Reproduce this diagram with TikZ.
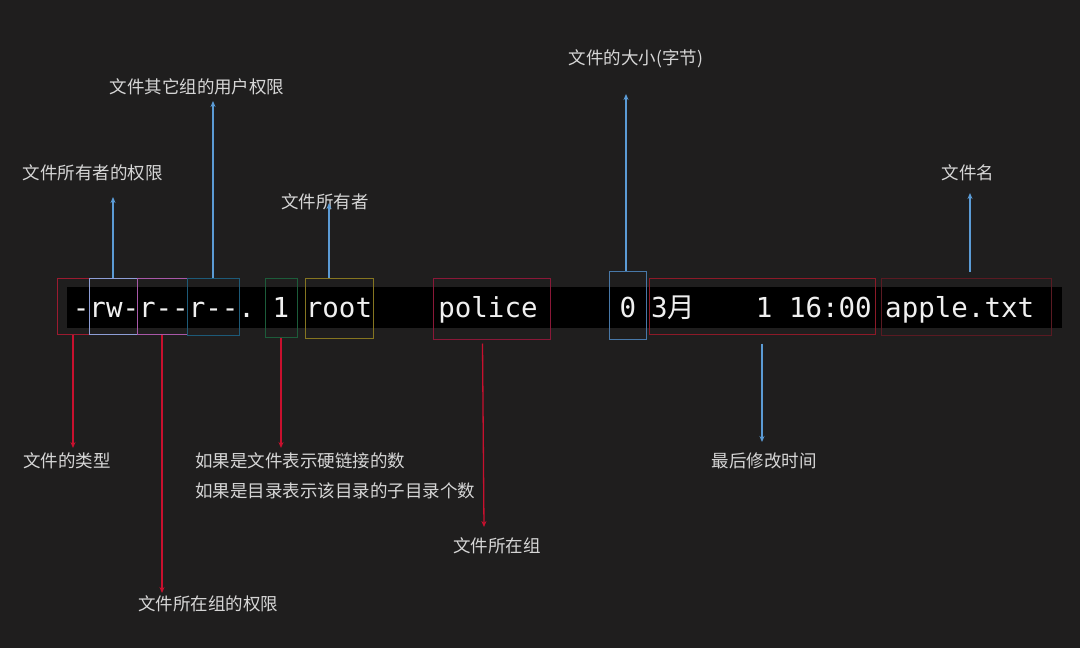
\documentclass[tikz,border=0pt]{standalone}
\usepackage{fontspec}
\setmainfont{Noto Sans CJK SC}
\newfontfamily\cjk{Noto Sans CJK SC}
\newfontfamily\monofnt{DejaVu Sans Mono}
\usetikzlibrary{arrows.meta}
\definecolor{bg}{HTML}{1F1E1E}
\definecolor{lbl}{HTML}{D6D6D6}
\definecolor{tt}{HTML}{F0F0F0}
\definecolor{barrow}{HTML}{5B9BD5}
\definecolor{rarrow}{HTML}{C8102E}
\definecolor{cType}{HTML}{9B1B30}
\definecolor{cOwner}{HTML}{8E9ED6}
\definecolor{cGroup}{HTML}{A858A8}
\definecolor{cOther}{HTML}{1D5A78}
\definecolor{cLinks}{HTML}{1C5C3A}
\definecolor{cRoot}{HTML}{857520}
\definecolor{cGname}{HTML}{8A1838}
\definecolor{cSize}{HTML}{4878A8}
\definecolor{cTime}{HTML}{8C1A28}
\definecolor{cName}{HTML}{5A1A22}
\tikzset{
  fbox/.style={draw=#1, line width=1pt, inner sep=0pt, fill=none},
  mono/.style={text=tt, inner sep=0pt, anchor=base, font=\monofnt\fontsize{27.5}{30}\selectfont},
  lab/.style={text=lbl, inner sep=0pt, font=\cjk\fontsize{17.5}{21}\selectfont},
  blueline/.style={draw=barrow, line width=1.3pt, -{Stealth[length=6pt,width=5pt]}},
  redline/.style={draw=rarrow, line width=1.3pt, -{Stealth[length=6pt,width=5pt]}},
}
\begin{document}
\begin{tikzpicture}[x=1pt,y=-1pt]
\fill[bg] (0,0) rectangle (1080,648);
\useasboundingbox (0,0) rectangle (1080,648);
% black strip
\fill[black] (67,287) rectangle (1062,328);

% terminal text
\node[mono, anchor=base west] (perm) at (72.7,317) {-rw-r--r--.};
\node[mono] (links) at (281,317) {1};
\node[mono] (root) at (339,317) {root};
\node[mono] (police) at (488,317) {police};
\node[mono] (size) at (628,317) {0};
\node[mono, anchor=base west] (month) at (651,317) {3{\cjk 月}};
\node[mono, anchor=base east] (time) at (872,317) {1 16:00};
\node[mono, anchor=base west] (fname) at (885,317) {apple.txt};

% boxes
\node[fbox=cType,  minimum width=32pt,  minimum height=56pt] (btype)  at (73,306) {};
\node[fbox=cOwner, minimum width=48pt,  minimum height=56pt] (bowner) at (113,306) {};
\node[fbox=cGroup, minimum width=50pt,  minimum height=56pt] (bgroup) at (162,306) {};
\node[fbox=cOther, minimum width=52pt,  minimum height=57pt] (bother) at (213,306.5) {};
\node[fbox=cLinks, minimum width=32pt,  minimum height=59pt] (blinks) at (281,307.5) {};
\node[fbox=cRoot,  minimum width=68pt,  minimum height=60pt] (broot)  at (339,308) {};
\node[fbox=cGname, minimum width=117pt, minimum height=61pt] (bgname) at (491.5,308.5) {};
\node[fbox=cSize,  minimum width=37pt,  minimum height=68pt] (bsize)  at (627.5,305) {};
\node[fbox=cTime,  minimum width=226pt, minimum height=56pt] (btime)  at (762,306) {};
\node[fbox=cName,  minimum width=170pt, minimum height=57pt] (bname)  at (966,306.5) {};

% labels
\node[lab] (lowner) at (93,173) {文件所有者的权限};
\node[lab] (lother) at (197,87) {文件其它组的用户权限};
\node[lab] (lroot) at (325,202) {文件所有者};
\node[lab] (lsize) at (636,59) {文件的大小(字节)};
\node[lab] (lname) at (968,173) {文件名};
\node[lab] (ltype) at (67,461) {文件的类型};
\node[lab] (lgroup) at (208,604) {文件所在组的权限};
\node[lab, anchor=west] (llinks1) at (195,461) {如果是文件表示硬链接的数};
\node[lab, anchor=west] (llinks2) at (195,491) {如果是目录表示该目录的子目录个数};
\node[lab] (lgname) at (497,546) {文件所在组};
\node[lab] (ltime) at (764,461) {最后修改时间};

% arrow tips
\coordinate (towner) at (113,197);
\coordinate (tother) at (213,101);
\coordinate (troot) at (329,203);
\coordinate (tsize) at (626,94);
\coordinate (tname) at (970,193);
\coordinate (ttype) at (73,448);
\coordinate (tgroup) at (162,593);
\coordinate (tlinks) at (281,448);
\coordinate (tgname) at (484,527);
\coordinate (ttime) at (762,442);

% connectors
\draw[blueline] (bowner.north) -- (towner);
\draw[blueline] (bother.north) -- (tother);
\draw[blueline] ([xshift=-10pt]broot.north) -- (troot);
\draw[blueline] ([xshift=-1.5pt]bsize.north) -- (tsize);
\draw[blueline] ([xshift=4pt,yshift=6pt]bname.north) -- (tname);
\draw[redline] (btype.south) -- (ttype);
\draw[redline] (bgroup.south) -- (tgroup);
\draw[redline] (blinks.south) -- (tlinks);
\draw[redline] ([xshift=-9pt,yshift=-4pt]bgname.south) -- (tgname);
\draw[blueline] ([yshift=-9pt]btime.south) -- (ttime);
\end{tikzpicture}
\end{document}
